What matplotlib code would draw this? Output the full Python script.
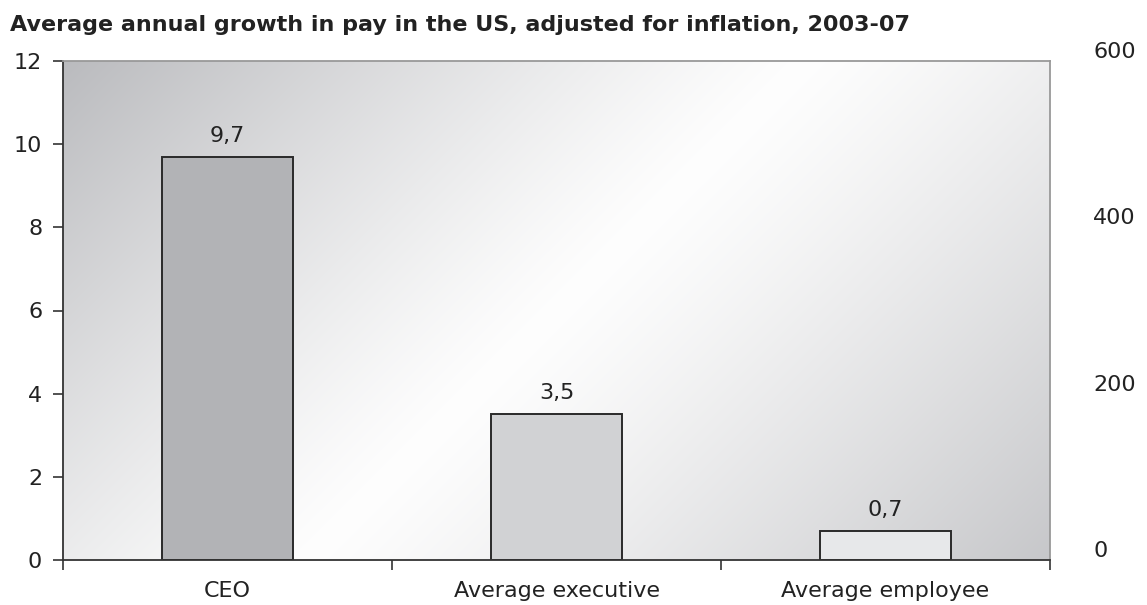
import numpy as np
import matplotlib
matplotlib.use("Agg")
import matplotlib.pyplot as plt
from matplotlib.transforms import ScaledTranslation

categories = ["CEO", "Average executive", "Average employee"]
values = [9.7, 3.5, 0.7]
value_labels = ["9,7", "3,5", "0,7"]
bar_colors = ["#b2b3b6", "#d1d2d4", "#e7e8ea"]
left_ticks = [0, 2, 4, 6, 8, 10, 12]
right_ticks = [0, 200, 400, 600]
title = "Average annual growth in pay in the US, adjusted for inflation, 2003-07"

plt.rcParams['font.family'] = ['DejaVu Sans']

fig = plt.figure(figsize=(11.47, 6.05), dpi=100)
ax = fig.add_axes([63/1147, 45/605, (1050-63)/1147, (560-61)/605])

# gradient background
W, H = 987, 499
xs = np.linspace(0, 1, 400)
ys = np.linspace(0, 1, 200)
X, Y = np.meshgrid(xs, ys)
t = (X * W + Y * H) / (W + H)  # Y from top
d = np.abs(2 * t - 1)
light = 0.995
dark = np.where(t < 0.5, 0.73, 0.78)
g = light - (light - dark) * d ** 1.2
img = np.dstack([g, g + 0.003 * (1 - g) / 0.25, g + 0.015 * (1 - g) / 0.25])
img = np.clip(img, 0, 1)
ax.imshow(img, extent=[0, 1, 0, 1], transform=ax.transAxes, aspect='auto',
          origin='upper', zorder=0, interpolation='bilinear')

x = np.arange(len(categories))
ax.bar(x, values, width=0.4, color=bar_colors, edgecolor='#2a2a2a',
       linewidth=1.4, zorder=2)
for xi, v, lab in zip(x, values, value_labels):
    ax.annotate(lab, (xi, v), xytext=(0, 8), textcoords='offset points',
                ha='center', va='bottom', fontsize=16, color='#222222', zorder=3)

ax.set_xlim(-0.5, len(categories) - 0.5)
ax.set_ylim(0, 12)
ax.set_yticks(left_ticks)
ax.set_yticklabels([str(v) for v in left_ticks])
ax.set_xticks(x)
ax.set_xticklabels(categories)
ax.set_xticks(np.arange(-0.5, len(categories)), minor=True)
ax.tick_params(axis='x', which='major', length=0, pad=15, labelsize=16, colors='#222222')
ax.tick_params(axis='x', which='minor', length=7, width=1.2, color='#333333', direction='out')
ax.tick_params(axis='y', length=7, width=1.2, color='#333333', pad=8, labelsize=16,
               labelcolor='#222222', direction='out')

for s in ['left', 'bottom']:
    ax.spines[s].set_color('#333333')
    ax.spines[s].set_linewidth(1.3)
for s in ['top', 'right']:
    ax.spines[s].set_color('#999999')
    ax.spines[s].set_linewidth(1.3)

ax2 = ax.twinx()
ax2.set_ylim(0, 600)
ax2.set_yticks(right_ticks)
ax2.set_yticklabels([str(v) for v in right_ticks])
ax2.tick_params(axis='y', length=0, pad=31, labelsize=16, labelcolor='#222222')
for s in ax2.spines.values():
    s.set_visible(False)
off = ScaledTranslation(0, 11 / 100, fig.dpi_scale_trans)
for lab in ax2.get_yticklabels():
    lab.set_transform(lab.get_transform() + off)

fig.text(10/1147, 1 - 25/605, title, fontsize=16, fontweight='bold',
         color='#222222', ha='left', va='center')

fig.savefig('out.png', dpi=100)
